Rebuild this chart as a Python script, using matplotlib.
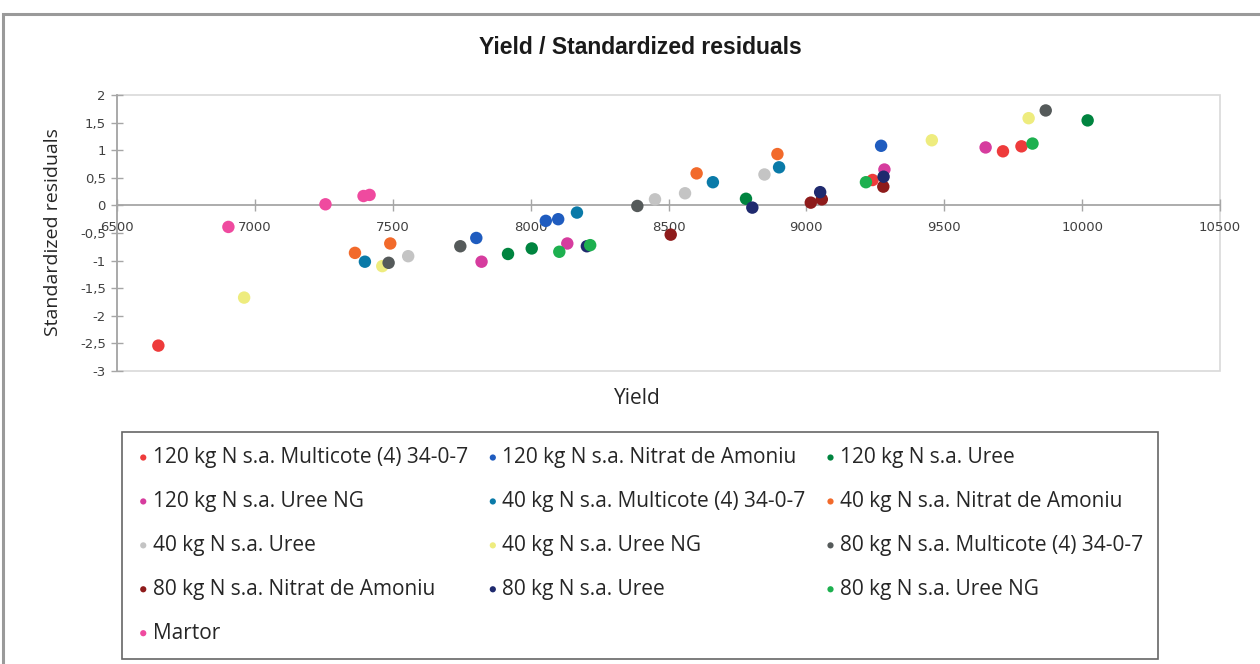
import numpy as np
import matplotlib
matplotlib.use('Agg')
import matplotlib.pyplot as plt
from matplotlib.patches import Rectangle
from matplotlib.ticker import FuncFormatter, MultipleLocator

# treatment names (legend order)
names = ['120 kg N s.a. Multicote (4) 34-0-7', '120 kg N s.a. Nitrat de Amoniu',
         '120 kg N s.a. Uree', '120 kg N s.a. Uree NG',
         '40 kg N s.a. Multicote (4) 34-0-7', '40 kg N s.a. Nitrat de Amoniu',
         '40 kg N s.a. Uree', '40 kg N s.a. Uree NG',
         '80 kg N s.a. Multicote (4) 34-0-7', '80 kg N s.a. Nitrat de Amoniu',
         '80 kg N s.a. Uree', '80 kg N s.a. Uree NG', 'Martor']

colors = ['#ee3b3b', '#1f5cbf', '#00843f', '#d63c9e',
          '#0a7aa8', '#f26a2b', '#c4c4c4', '#eeec7e',
          '#555a5a', '#8e1b1b', '#1f2a6e', '#1db04f', '#ef4a9f']

# yield per replicate
yield_120_multi = [6650, 9240, 9713, 9780]
yield_120_nitrat = [7803, 8055, 8100, 9271]
yield_120_uree = [7918, 8004, 8781, 10020]
yield_120_ureeng = [7822, 8133, 9283, 9650]
yield_40_multi = [7399, 8168, 8661, 8901]
yield_40_nitrat = [7363, 7491, 8602, 8895]
yield_40_uree = [7556, 8451, 8560, 8848]
yield_40_ureeng = [6961, 7462, 9455, 9806]
yield_80_multi = [7485, 7745, 8387, 9868]
yield_80_nitrat = [8508, 9016, 9056, 9279]
yield_80_uree = [8204, 8804, 9050, 9280]
yield_80_ureeng = [8104, 8216, 9216, 9820]
yield_martor = [6904, 7256, 7394, 7416]

# standardized residuals
res_120_multi = [-2.54, 0.46, 0.98, 1.07]
res_120_nitrat = [-0.59, -0.28, -0.25, 1.08]
res_120_uree = [-0.88, -0.78, 0.12, 1.54]
res_120_ureeng = [-1.02, -0.69, 0.65, 1.05]
res_40_multi = [-1.02, -0.13, 0.42, 0.69]
res_40_nitrat = [-0.86, -0.69, 0.58, 0.93]
res_40_uree = [-0.92, 0.11, 0.22, 0.56]
res_40_ureeng = [-1.67, -1.10, 1.18, 1.58]
res_80_multi = [-1.04, -0.74, -0.01, 1.72]
res_80_nitrat = [-0.53, 0.05, 0.11, 0.34]
res_80_uree = [-0.74, -0.04, 0.24, 0.52]
res_80_ureeng = [-0.84, -0.72, 0.42, 1.12]
res_martor = [-0.39, 0.02, 0.17, 0.19]

yields = [yield_120_multi, yield_120_nitrat, yield_120_uree, yield_120_ureeng,
          yield_40_multi, yield_40_nitrat, yield_40_uree, yield_40_ureeng,
          yield_80_multi, yield_80_nitrat, yield_80_uree, yield_80_ureeng,
          yield_martor]
residuals = [res_120_multi, res_120_nitrat, res_120_uree, res_120_ureeng,
             res_40_multi, res_40_nitrat, res_40_uree, res_40_ureeng,
             res_80_multi, res_80_nitrat, res_80_uree, res_80_ureeng,
             res_martor]

W, H = 1260, 664


def comma(v, pos):
    return ('%g' % v).replace('.', ',')


def plot_residuals():
    fig = plt.figure(figsize=(W / 100, H / 100), dpi=100)
    ax = fig.add_axes([117 / W, 1 - 371 / H, (1220 - 117) / W, (371 - 95) / H])

    handles = []
    for name, col, x, y in zip(names, colors, yields, residuals):
        h = ax.scatter(x, y, s=80, color=col, edgecolors='none', label=name, zorder=3)
        handles.append(h)

    ax.set_xlim(6500, 10500)
    ax.set_ylim(-3, 2)
    ax.xaxis.set_major_locator(MultipleLocator(500))
    ax.yaxis.set_major_locator(MultipleLocator(0.5))
    ax.yaxis.set_major_formatter(FuncFormatter(comma))

    # plot area border + axis lines crossing at 0
    ax.add_patch(Rectangle((0, 0), 1, 1, transform=ax.transAxes, fill=False,
                           edgecolor='#d9d9d9', lw=1.2, zorder=0, clip_on=False))
    for s in ['top', 'right']:
        ax.spines[s].set_visible(False)
    ax.spines['bottom'].set_position(('data', 0))
    ax.spines['bottom'].set_color('#a6a6a6')
    ax.spines['left'].set_color('#a6a6a6')
    ax.spines['bottom'].set_linewidth(1.3)
    ax.spines['left'].set_linewidth(1.3)
    ax.tick_params(direction='inout', length=9, width=1, color='#a6a6a6',
                   labelsize=9.5, labelcolor='#404040')
    ax.tick_params(axis='x', pad=7)

    fig.text(0.508, 1 - 48 / H, 'Yield / Standardized residuals', ha='center', va='center',
             fontsize=16.5, fontweight='bold', family=['Liberation Sans Narrow', 'Liberation Sans'],
             color='#1a1a1a')
    fig.text(637 / W, 1 - 398 / H, 'Yield', ha='center', va='center', fontsize=15,
             family='Open Sans', color='#262626')
    fig.text(53 / W, 1 - 232 / H, 'Standardized residuals', ha='center', va='center',
             rotation=90, fontsize=14, family='Open Sans', color='#262626')

    # legend, row-wise order like the original
    order = [0, 3, 6, 9, 12, 1, 4, 7, 10, 2, 5, 8, 11]
    leg = fig.legend([handles[i] for i in order], [names[i] for i in order],
                     ncol=3, loc='upper left',
                     bbox_to_anchor=(122 / W, 1 - 432 / H - 0.01, (1158 - 122) / W, 0.01),
                     mode='expand', frameon=True, fancybox=False, markerscale=0.5,
                     handletextpad=0.15, handlelength=0.6, columnspacing=0.4,
                     labelspacing=1.1, borderpad=0.72, borderaxespad=0,
                     prop={'family': 'Open Sans', 'size': 15})
    leg.get_frame().set_edgecolor('#404040')
    leg.get_frame().set_linewidth(1.2)
    for t in leg.get_texts():
        t.set_color('#262626')

    # outer chart frame
    fig.add_artist(Rectangle((3 / W, -0.1), 1.2, 1.1 - 14 / H, transform=fig.transFigure,
                             fill=False, edgecolor='#9a9a9a', lw=2.2))

    fig.savefig('out.png', dpi=100)


if __name__ == '__main__':
    plot_residuals()
